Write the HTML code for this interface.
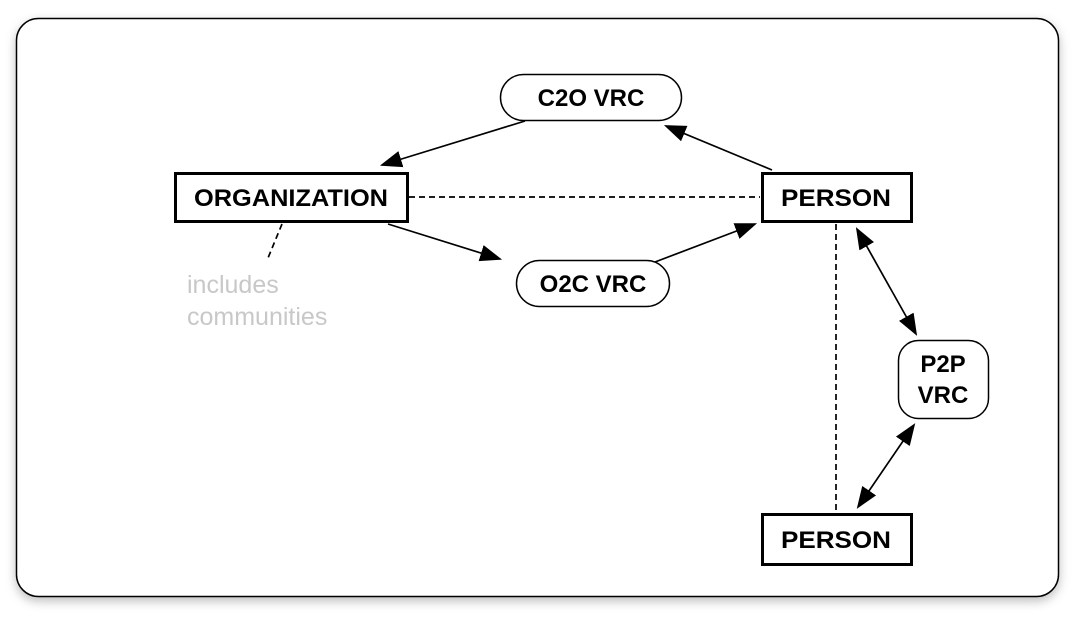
<!DOCTYPE html>
<html><head><style>
html,body{margin:0;padding:0;background:#fff;}
svg{display:block;}
</style></head><body>
<svg width="1086" height="620" viewBox="0 0 1086 620" xmlns="http://www.w3.org/2000/svg">
<defs>
<filter id="sh" x="-5%" y="-5%" width="110%" height="115%"><feDropShadow dx="0" dy="4" stdDeviation="5" flood-color="#000" flood-opacity="0.25"/></filter>
<marker id="b" viewBox="0 0 10 10" refX="9" refY="5" markerWidth="22" markerHeight="22" markerUnits="userSpaceOnUse" orient="auto-start-reverse"><path d="M0,1.2 L10,5 L0,8.8 z" fill="#000"/></marker>
</defs>
<rect x="16.5" y="18.5" width="1042" height="578" rx="22" fill="#fff" stroke="#000" stroke-width="1.5" filter="url(#sh)"/>
<g font-family="Liberation Sans, sans-serif" font-weight="bold" font-size="24" text-anchor="middle">
<rect x="175.5" y="173.5" width="232" height="48" fill="#fff" stroke="#000" stroke-width="3"/>
<text x="291" y="206" textLength="194" lengthAdjust="spacingAndGlyphs">ORGANIZATION</text>
<rect x="762.5" y="173.5" width="149" height="48" fill="#fff" stroke="#000" stroke-width="3"/>
<text x="836" y="206" textLength="110" lengthAdjust="spacingAndGlyphs">PERSON</text>
<rect x="762.5" y="514.5" width="149" height="50" fill="#fff" stroke="#000" stroke-width="3"/>
<text x="836" y="548" textLength="110" lengthAdjust="spacingAndGlyphs">PERSON</text>
<rect x="500.5" y="74.5" width="181" height="46" rx="23" fill="#fff" stroke="#000" stroke-width="1.5"/>
<text x="591" y="106">C2O VRC</text>
<rect x="516.5" y="260.5" width="153" height="46" rx="23" fill="#fff" stroke="#000" stroke-width="1.5"/>
<text x="593" y="292">O2C VRC</text>
<rect x="898.5" y="340.5" width="90" height="78" rx="20" fill="#fff" stroke="#000" stroke-width="1.5"/>
<text x="943" y="372">P2P</text>
<text x="943" y="403">VRC</text>
</g>
<g stroke="#000" stroke-width="1.7" fill="none">
<line x1="409" y1="197" x2="760" y2="197" stroke-dasharray="6,4"/>
<line x1="836" y1="224" x2="836" y2="513" stroke-dasharray="6,4"/>
<line x1="282" y1="224" x2="268" y2="258" stroke-dasharray="6,4"/>
<line x1="525" y1="121" x2="382" y2="165" marker-end="url(#b)"/>
<line x1="772" y1="170" x2="666" y2="126" marker-end="url(#b)"/>
<line x1="388" y1="224" x2="500" y2="259" marker-end="url(#b)"/>
<line x1="655" y1="262" x2="755" y2="224" marker-end="url(#b)"/>
<line x1="857" y1="229" x2="916" y2="334" marker-start="url(#b)" marker-end="url(#b)"/>
<line x1="914" y1="425" x2="858" y2="507" marker-start="url(#b)" marker-end="url(#b)"/>
</g>
<g font-family="Liberation Sans, sans-serif" font-size="25" fill="#c8c8c8">
<text x="187" y="293">includes</text>
<text x="187" y="325">communities</text>
</g>
</svg>
</body></html>
